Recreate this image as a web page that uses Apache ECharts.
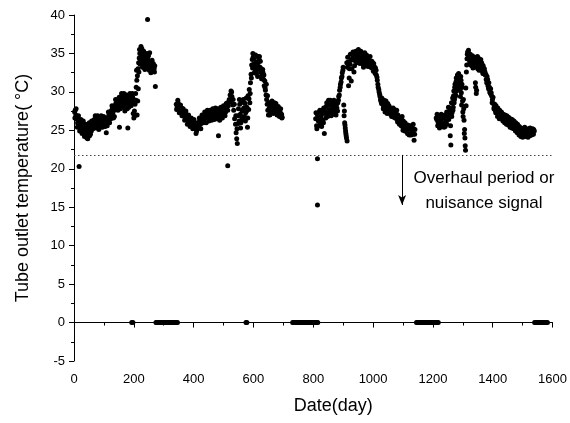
<!DOCTYPE html>
<html>
<head>
<meta charset="utf-8">
<script src="https://cdn.jsdelivr.net/npm/echarts@6/dist/echarts.min.js"></script>
<style>
  html, body { margin: 0; padding: 0; background: #fff; }
  #main { width: 570px; height: 423px; }
</style>
</head>
<body>
<div id="main"></div>
<script>
// readings [day, outlet temperature]
var season1 = [
  [2,27.4],[4,27.6],[6,27.0],[8,26.5],[10,26.8],[12,26.0],[14,25.8],[16,26.3],[18,25.6],[20,25.9],
  [22,25.3],[24,25.7],[26,25.1],[28,25.5],[30,25.9],[32,25.2],[34,24.8],[36,25.4],[38,25.0],[40,24.6],
  [42,25.3],[44,24.5],[46,23.9],[48,24.8],[50,25.5],[52,24.3],[54,25.1],[56,25.8],[58,24.9],[60,25.4],
  [62,26.1],[64,25.6],[66,26.3],[68,25.9],[70,26.5],[72,25.7],[74,26.0],[76,26.6],[78,25.8],[80,26.2],
  [82,25.5],[84,26.4],[86,26.0],[88,26.7],[90,26.2],[92,25.8],[94,26.5],[96,26.1],[98,25.6],[100,26.3],
  [102,26.0],[104,25.5],[106,26.4],[108,24.7],[110,26.2],[112,26.6],[114,26.1],[116,26.9],[118,26.4],[120,27.1],
  [122,26.7],[124,27.5],[126,27.0],[128,27.8],[130,27.3],[132,26.6],[134,27.6],[136,28.2],[138,27.7],[140,28.5],
  [142,27.9],[144,28.7],[146,28.2],[148,29.0],[150,28.4],[152,25.4],[154,28.8],[156,29.3],[158,28.6],[160,29.4],
  [162,28.1],[164,29.5],[166,28.8],[168,29.2],[170,27.5],[172,29.4],[174,28.6],[176,29.0],[178,27.8],[180,25.3],
  [182,29.3],[184,28.9],[186,29.5],[188,28.4],[190,29.1],[192,29.6],[194,28.7],[196,29.3],[198,27.2],[200,26.6],
  [202,27.5],[204,28.4],[206,29.8],[208,30.6],[210,31.5],[211,27.0],[212,32.1],[213,28.8],[214,33.0],[215,30.4],
  [216,33.8],[218,34.4],[220,35.0],[222,34.2],[224,35.9],[226,35.4],[228,34.6],[230,33.9],[232,34.8],[234,33.4],
  [236,34.1],[238,33.0],[240,34.5],[242,33.7],[244,35.0],[246,34.3],[248,33.2],[250,34.0],[252,32.8],[254,33.5],
  [256,32.9],[258,33.6],[260,33.1],[262,33.4],[264,32.7],[266,33.3],[268,33.0],[270,33.4],[272,30.7],
  [3,26.6],[7,27.8],[11,25.4],[15,26.9],[19,24.9],[23,26.4],[27,24.6],[31,26.2],[35,24.2],[39,25.8],
  [43,24.0],[47,24.4],[51,26.0],[55,24.5],[59,26.2],[63,25.2],[67,25.3],[71,26.9],[75,25.3],[79,26.9],
  [83,25.1],[87,25.4],[91,26.9],[95,25.4],[99,26.8],[103,26.6],[107,25.9],[111,25.6],[115,27.4],[119,26.0],
  [123,26.5],[127,28.2],[131,28.0],[135,26.8],[139,29.0],[143,28.6],[147,27.6],[151,29.3],[155,27.8],[159,29.8],
  [163,28.0],[167,29.8],[171,28.3],[175,29.6],[179,28.6],[183,28.0],[187,29.8],[191,28.2],[195,29.8],[199,29.0],
  [203,26.9],[207,28.9],[209,32.8],[217,32.6],[219,35.5],[221,33.6],[223,35.0],[225,34.0],[227,35.6],[229,33.2],
  [233,35.3],[237,32.9],[241,33.2],[245,33.0],[249,34.7],[253,35.1],[257,32.5],[261,34.1],[265,33.7],[269,32.6]
];
var season2 = [
  [342,28.4],[345,28.0],[348,28.6],[351,27.8],[354,28.2],[357,27.4],[360,27.9],[363,27.1],[366,27.5],[369,26.8],
  [372,27.2],[375,26.5],[378,26.9],[381,26.2],[384,26.7],[387,26.0],[390,26.5],[393,25.8],[396,26.3],[399,25.6],
  [402,26.1],[405,25.2],[408,24.6],[411,25.7],[414,26.0],[417,25.4],[420,26.2],[423,25.8],[426,26.6],[429,26.1],
  [432,26.9],[435,26.4],[438,27.1],[441,26.6],[444,27.3],[447,26.8],[450,27.2],[453,26.5],[456,27.0],[459,26.7],
  [462,27.4],[465,26.9],[468,27.3],[471,26.6],[474,27.5],[477,27.0],[480,27.4],[483,24.3],[486,26.8],[489,27.3],
  [492,27.6],[495,27.0],[498,27.7],[501,27.3],[504,27.9],[507,27.4],[510,28.1],[513,28.6],[516,28.2],[519,29.0],
  [522,29.6],[525,30.1],[528,29.4],[531,28.3],[534,27.6],[537,26.5],[540,25.8],[542,24.7],[544,23.9],[546,23.3],
  [548,26.9],[550,27.8],[552,26.2],[554,28.4],[556,27.1],[558,26.0],[560,28.7],[562,27.5],[564,26.4],[566,29.0],
  [568,27.9],[570,26.8],[572,28.5],[574,27.3],[576,29.2],[578,28.0],[580,25.4],[582,29.5],[584,27.7],[586,30.3],
  [588,28.6],[590,31.2],[592,32.3],[594,33.5],[596,34.2],[598,35.0],[600,33.6],[602,34.4],[604,33.1],[606,32.7],
  [608,33.9],[610,32.4],[612,33.3],[614,32.0],[616,33.8],[618,34.3],[620,34.6],[622,33.2],[624,32.6],[626,33.0],
  [628,32.2],[630,31.8],[632,32.5],[634,31.6],[636,30.8],[638,31.4],[640,30.2],[642,29.6],[644,29.0],[646,28.4],
  [648,27.6],[650,27.0],[652,27.8],[654,28.3],[656,27.4],[658,28.6],[660,28.0],[662,28.8],[664,27.5],[666,28.4],
  [668,27.9],[670,28.6],[672,27.7],[674,28.2],[676,27.4],[678,27.9],[680,27.2],[682,27.6],[684,27.0],[686,27.5],
  [688,26.9],[690,27.3],[692,26.8],[694,27.1],[696,26.7],
  [343,27.7],[347,28.9],[352,27.3],[356,28.3],[361,26.9],[365,27.8],[370,26.3],[374,27.5],[379,25.8],[383,27.0],
  [388,25.5],[392,26.6],[397,25.2],[401,26.4],[406,25.9],[410,24.9],[415,25.3],[419,26.6],[424,25.2],[428,27.0],
  [433,26.0],[437,27.4],[442,26.0],[446,27.6],[451,26.2],[455,27.6],[460,26.3],[464,27.8],[469,26.4],[473,27.9],
  [478,26.5],[482,27.8],[487,26.3],[491,28.0],[496,26.6],[500,28.2],[505,26.9],[509,28.5],[514,27.6],[518,28.7],
  [523,28.7],[527,30.0],[532,29.0],[536,28.4],[541,26.9],[545,25.2],[549,25.9],[553,29.0],[557,25.3],[561,26.7],
  [565,27.7],[569,28.6],[573,26.2],[577,27.5],[581,26.6],[585,29.1],[589,29.8],[593,31.8],[597,33.1],[599,34.5],
  [603,32.5],[607,34.8],[611,33.0],[615,34.6],[619,32.9],[623,34.0],[627,31.7],[631,32.9],[635,32.2],[639,30.5],
  [643,31.0],[647,29.5],[651,28.6],[655,27.0],[659,27.3],[663,28.5],[667,27.2],[671,28.2],[675,28.5],[679,27.0],
  [683,28.1],[687,26.8],[691,27.8],[695,26.6]
];
var season3 = [
  [808,26.5],[811,25.6],[814,27.0],[817,26.2],[820,27.4],[823,25.9],[826,26.8],[829,27.6],[832,26.3],[835,27.9],
  [837,24.6],[840,27.2],[843,28.1],[846,27.4],[849,28.3],[852,27.7],[855,28.5],[858,27.6],[861,28.2],[864,27.3],
  [867,28.4],[870,27.8],[873,28.3],[876,27.0],[879,27.9],[882,28.6],[885,29.4],[888,30.2],[891,31.0],[894,31.8],
  [897,32.5],[900,33.2],[903,26.9],[905,26.0],[907,25.3],[909,24.6],[911,24.0],[913,23.6],[912,33.8],[915,34.5],
  [918,30.8],[921,33.0],[924,34.9],[927,31.4],[930,34.2],[933,35.2],[936,32.6],[939,34.6],[942,35.3],[945,33.8],
  [948,34.9],[951,35.5],[954,34.1],[957,35.2],[960,34.4],[963,35.0],[966,33.6],[969,34.7],[972,35.1],[975,34.0],
  [978,34.8],[981,33.5],[984,34.4],[987,33.8],[990,34.6],[993,33.3],[996,34.0],[999,33.2],[1002,33.7],[1005,32.8],
  [1008,33.1],[1011,32.2],[1014,31.5],[1017,30.6],[1020,30.0],[1023,29.4],[1026,28.8],[1029,29.2],[1032,28.4],[1035,28.0],
  [1038,28.6],[1041,27.6],[1044,28.3],[1047,27.2],[1050,27.8],[1053,28.2],[1056,27.4],[1059,27.9],[1062,26.8],[1065,27.5],
  [1068,27.0],[1071,27.7],[1074,26.6],[1077,27.2],[1080,26.4],[1083,27.0],[1086,26.2],[1089,26.7],[1092,25.9],[1095,26.5],
  [1098,25.5],[1101,26.2],[1104,25.3],[1107,26.0],[1110,25.1],[1113,24.8],[1116,25.7],[1119,24.5],[1122,25.2],[1125,24.6],
  [1128,25.4],[1131,24.9],[1134,25.8],[1137,23.7],[1140,25.1],
  [809,27.3],[812,25.2],[816,26.5],[819,25.6],[822,27.6],[825,26.3],[828,25.5],[831,27.2],[834,26.0],[838,27.5],
  [842,26.6],[845,28.6],[848,26.8],[851,28.9],[854,27.1],[857,28.9],[860,26.9],[863,28.7],[866,27.1],[869,28.9],
  [872,27.4],[875,28.7],[878,28.4],[881,27.5],[884,28.9],[887,29.6],[890,30.6],[893,31.3],[896,32.0],[899,32.8],
  [902,28.3],[904,27.5],[906,25.7],[908,24.9],[910,24.3],[914,33.2],[917,33.9],[920,31.8],[923,33.6],[926,34.1],
  [929,33.0],[932,34.4],[935,35.0],[938,33.4],[941,34.0],[944,35.1],[947,34.3],[950,34.6],[953,35.0],[956,33.7],
  [959,35.3],[962,34.0],[965,34.6],[968,33.2],[971,34.3],[974,34.6],[977,33.6],[980,34.2],[983,33.3],[986,33.9],
  [989,33.3],[992,34.0],[995,33.1],[998,33.8],[1001,32.7],[1004,33.3],[1007,32.4],[1010,32.8],[1013,31.9],[1016,31.0],
  [1019,30.3],[1022,29.7],[1025,29.0],[1028,28.5],[1031,29.0],[1034,27.8],[1037,28.9],[1040,27.4],[1043,28.8],[1046,27.6],
  [1049,28.5],[1052,27.5],[1055,27.9],[1058,27.1],[1061,27.6],[1064,26.9],[1067,27.9],[1070,26.7],[1073,27.4],[1076,26.9],
  [1079,27.6],[1082,26.1],[1085,26.7],[1088,25.8],[1091,26.5],[1094,25.6],[1097,26.8],[1100,25.0],[1103,25.8],[1106,24.9],
  [1109,25.6],[1112,25.5],[1115,24.6],[1118,25.3],[1121,24.4],[1124,25.6],[1127,24.4],[1130,25.3],[1133,24.5],[1136,25.2],
  [1139,24.5]
];
var season4 = [
  [1213,26.4],[1216,25.6],[1219,26.9],[1222,25.3],[1225,26.2],[1228,27.1],[1231,25.8],[1234,26.6],[1237,25.4],[1240,27.0],
  [1243,26.1],[1246,27.4],[1249,26.5],[1252,28.0],[1255,26.9],[1258,24.3],[1260,23.1],[1262,28.6],[1264,27.3],[1266,29.2],
  [1268,28.0],[1270,30.1],[1272,29.0],[1274,31.0],[1276,29.6],[1278,31.8],[1280,30.4],[1282,32.2],[1284,31.3],[1286,32.4],
  [1288,30.8],[1290,32.0],[1292,29.4],[1294,31.5],[1296,28.3],[1298,30.6],[1300,27.4],[1302,29.0],[1304,26.3],[1306,25.1],
  [1307,24.0],[1308,23.0],[1309,22.4],[1310,30.5],[1311,28.2],[1312,32.6],[1314,34.3],[1316,35.2],[1318,34.8],[1320,35.0],
  [1322,34.2],[1324,34.6],[1326,33.8],[1328,34.4],[1330,33.4],[1332,34.7],[1334,33.1],[1336,34.0],[1338,33.5],[1340,34.5],
  [1342,31.2],[1344,33.3],[1346,30.2],[1348,34.1],[1350,33.0],[1352,34.4],[1354,32.8],[1356,33.9],[1358,33.2],[1360,34.2],
  [1362,33.0],[1364,33.6],[1366,32.7],[1368,33.4],[1370,32.4],[1372,33.0],[1375,32.2],[1378,31.6],[1381,32.0],[1384,30.8],
  [1387,31.2],[1390,30.0],[1393,30.4],[1396,29.5],[1399,29.0],[1402,28.5],[1405,28.0],[1408,27.6],[1411,28.2],[1414,27.3],
  [1417,27.9],[1420,27.0],[1423,27.6],[1426,26.8],[1429,27.4],[1432,26.5],[1435,27.1],[1438,26.3],[1441,27.0],[1444,26.4],
  [1447,26.9],[1450,26.1],[1453,26.7],[1456,25.9],[1459,26.5],[1462,25.8],[1465,26.4],[1468,25.6],[1471,26.2],[1474,25.4],
  [1477,26.0],[1480,25.2],[1483,25.8],[1486,24.9],[1489,25.5],[1492,24.6],[1495,25.3],[1498,24.4],[1501,25.1],[1504,24.7],
  [1507,25.4],[1510,24.2],[1513,25.0],[1516,24.6],[1519,25.2],[1522,24.8],[1525,25.3],[1528,24.6],[1531,25.0],[1534,24.7],
  [1537,25.1],
  [1211,26.6],[1214,27.1],[1217,26.1],[1220,25.6],[1223,26.7],[1226,25.5],[1229,26.4],[1232,26.8],[1235,25.9],[1238,26.9],
  [1241,25.5],[1244,26.6],[1247,25.8],[1250,27.3],[1253,26.4],[1256,27.6],[1259,25.6],[1261,27.9],[1263,26.8],[1265,28.6],
  [1267,27.6],[1269,29.5],[1271,28.6],[1273,30.6],[1275,29.4],[1277,31.3],[1279,30.1],[1281,31.7],[1283,30.7],[1285,31.9],
  [1287,32.1],[1289,31.4],[1291,30.3],[1293,32.0],[1295,29.9],[1297,31.0],[1299,28.8],[1301,26.8],[1303,27.8],[1305,24.6],
  [1313,33.5],[1315,34.9],[1317,34.3],[1319,35.4],[1321,34.5],[1323,33.9],[1325,34.9],[1327,33.5],[1329,34.2],[1331,33.9],
  [1333,34.5],[1335,33.6],[1337,34.5],[1339,33.2],[1341,33.9],[1343,30.6],[1345,29.8],[1347,33.6],[1349,34.6],[1351,33.6],
  [1353,33.1],[1355,34.1],[1357,33.4],[1359,33.9],[1361,32.8],[1363,33.8],[1365,33.2],[1367,32.4],[1369,33.1],[1371,32.8],
  [1374,32.6],[1377,32.3],[1380,31.2],[1383,31.6],[1386,30.4],[1389,30.6],[1392,29.8],[1395,29.9],[1398,28.6],[1401,29.3],
  [1404,27.8],[1407,28.4],[1410,27.3],[1413,27.9],[1416,26.8],[1419,27.6],[1422,26.5],[1425,27.3],[1428,26.5],[1431,27.2],
  [1434,26.2],[1437,26.7],[1440,26.0],[1443,26.7],[1446,25.8],[1449,26.5],[1452,25.7],[1455,26.3],[1458,25.4],[1461,26.1],
  [1464,25.3],[1467,26.1],[1470,25.2],[1473,25.9],[1476,24.9],[1479,25.6],[1482,24.7],[1485,25.5],[1488,24.4],[1491,25.2],
  [1494,24.2],[1497,25.0],[1500,24.1],[1503,24.8],[1506,24.3],[1509,25.0],[1512,24.3],[1515,24.8],[1518,24.1],[1521,25.0],
  [1524,24.3],[1527,24.9],[1530,24.4],[1533,25.2],[1536,24.5],[1539,24.9]
];
var strayPoints = [[17,20.3],[246,39.4],[514,20.4],[814,21.3],[814,15.3]];
var zeroReadings = [
  [193,0],[197,0],
  [274,0],[277,0],[280,0],[283,0],[286,0],[289,0],[292,0],[295,0],[298,0],[301,0],[304,0],[307,0],[310,0],
  [313,0],[316,0],[319,0],[322,0],[325,0],[328,0],[331,0],[334,0],[337,0],[340,0],[343,0],[346,0],
  [575,0],[578,0],
  [731,0],[734,0],[737,0],[740,0],[743,0],[746,0],[749,0],[752,0],[755,0],[758,0],[761,0],[764,0],[767,0],
  [770,0],[773,0],[776,0],[779,0],[782,0],[785,0],[788,0],[791,0],[794,0],[797,0],[800,0],[803,0],[806,0],
  [809,0],[812,0],[815,0],
  [1145,0],[1148,0],[1151,0],[1154,0],[1157,0],[1160,0],[1163,0],[1166,0],[1169,0],[1172,0],[1175,0],[1178,0],
  [1181,0],[1184,0],[1187,0],[1190,0],[1193,0],[1196,0],[1199,0],[1202,0],[1205,0],[1208,0],[1211,0],[1214,0],[1218,0],
  [1540,0],[1543,0],[1546,0],[1549,0],[1552,0],[1555,0],[1558,0],[1561,0],[1564,0],[1567,0],[1570,0],[1573,0],
  [1576,0],[1579,0],[1583,0]
];
var threshold = 21.8;
var arrowDay = 1097;
var arrowEnd = 15.3;

var allPoints = season1.concat(season2, season3, season4, strayPoints, zeroReadings);

var myChart = echarts.init(document.getElementById('main'));
var option = {
  backgroundColor: '#fff',
  animation: false,
  textStyle: { fontFamily: 'Liberation Sans, Arial, sans-serif', color: '#000' },
  grid: { left: 74, right: 16, top: 15, bottom: 62 },
  xAxis: {
    type: 'value',
    min: 0, max: 1600, interval: 200,
    name: 'Date(day)',
    nameLocation: 'middle',
    nameGap: 36,
    nameTextStyle: { fontSize: 18, color: '#000', padding: [0, 0, 0, 40] },
    axisLine: { lineStyle: { color: '#000', width: 1 } },
    axisTick: { inside: false, length: 5, lineStyle: { color: '#000' } },
    minorTick: { show: true, splitNumber: 2, length: 3, lineStyle: { color: '#000' } },
    axisLabel: { fontSize: 13, color: '#000', margin: 12, formatter: function (v) { return String(v); } },
    splitLine: { show: false }
  },
  yAxis: {
    type: 'value',
    min: -5, max: 40, interval: 5,
    name: 'Tube outlet temperature( °C)',
    nameLocation: 'middle',
    nameGap: 42,
    nameTextStyle: { fontSize: 18, color: '#000' },
    axisLine: { show: true, lineStyle: { color: '#000', width: 1 } },
    axisTick: { show: true, inside: false, length: 5, lineStyle: { color: '#000' } },
    minorTick: { show: true, splitNumber: 2, length: 3, lineStyle: { color: '#000' } },
    axisLabel: { fontSize: 13, color: '#000', margin: 9 },
    splitLine: { show: false }
  },
  series: [{
    type: 'scatter',
    data: allPoints,
    symbolSize: 5,
    itemStyle: { color: '#000', opacity: 1 },
    silent: true
  }, {
    type: 'line',
    data: [],
    silent: true,
    markLine: {
      silent: true,
      symbol: ['none', 'none'],
      label: { show: false },
      data: [
        { yAxis: threshold, lineStyle: { color: '#444', type: [1.5, 2.5], width: 1 } },
        [
          { coord: [arrowDay, threshold], symbol: 'none', lineStyle: { color: '#000', type: 'solid', width: 1 } },
          { coord: [arrowDay, arrowEnd], symbol: 'arrow', symbolSize: [6, 10] }
        ]
      ]
    }
  }],
  graphic: [{
    type: 'text',
    x: 484, y: 166,
    style: {
      text: 'Overhaul period or\nnuisance signal',
      textAlign: 'center',
      textVerticalAlign: 'top',
      font: '17px "Liberation Sans", Arial, sans-serif',
      lineHeight: 25,
      fill: '#000'
    }
  }]
};
myChart.setOption(option);
</script>
</body>
</html>
